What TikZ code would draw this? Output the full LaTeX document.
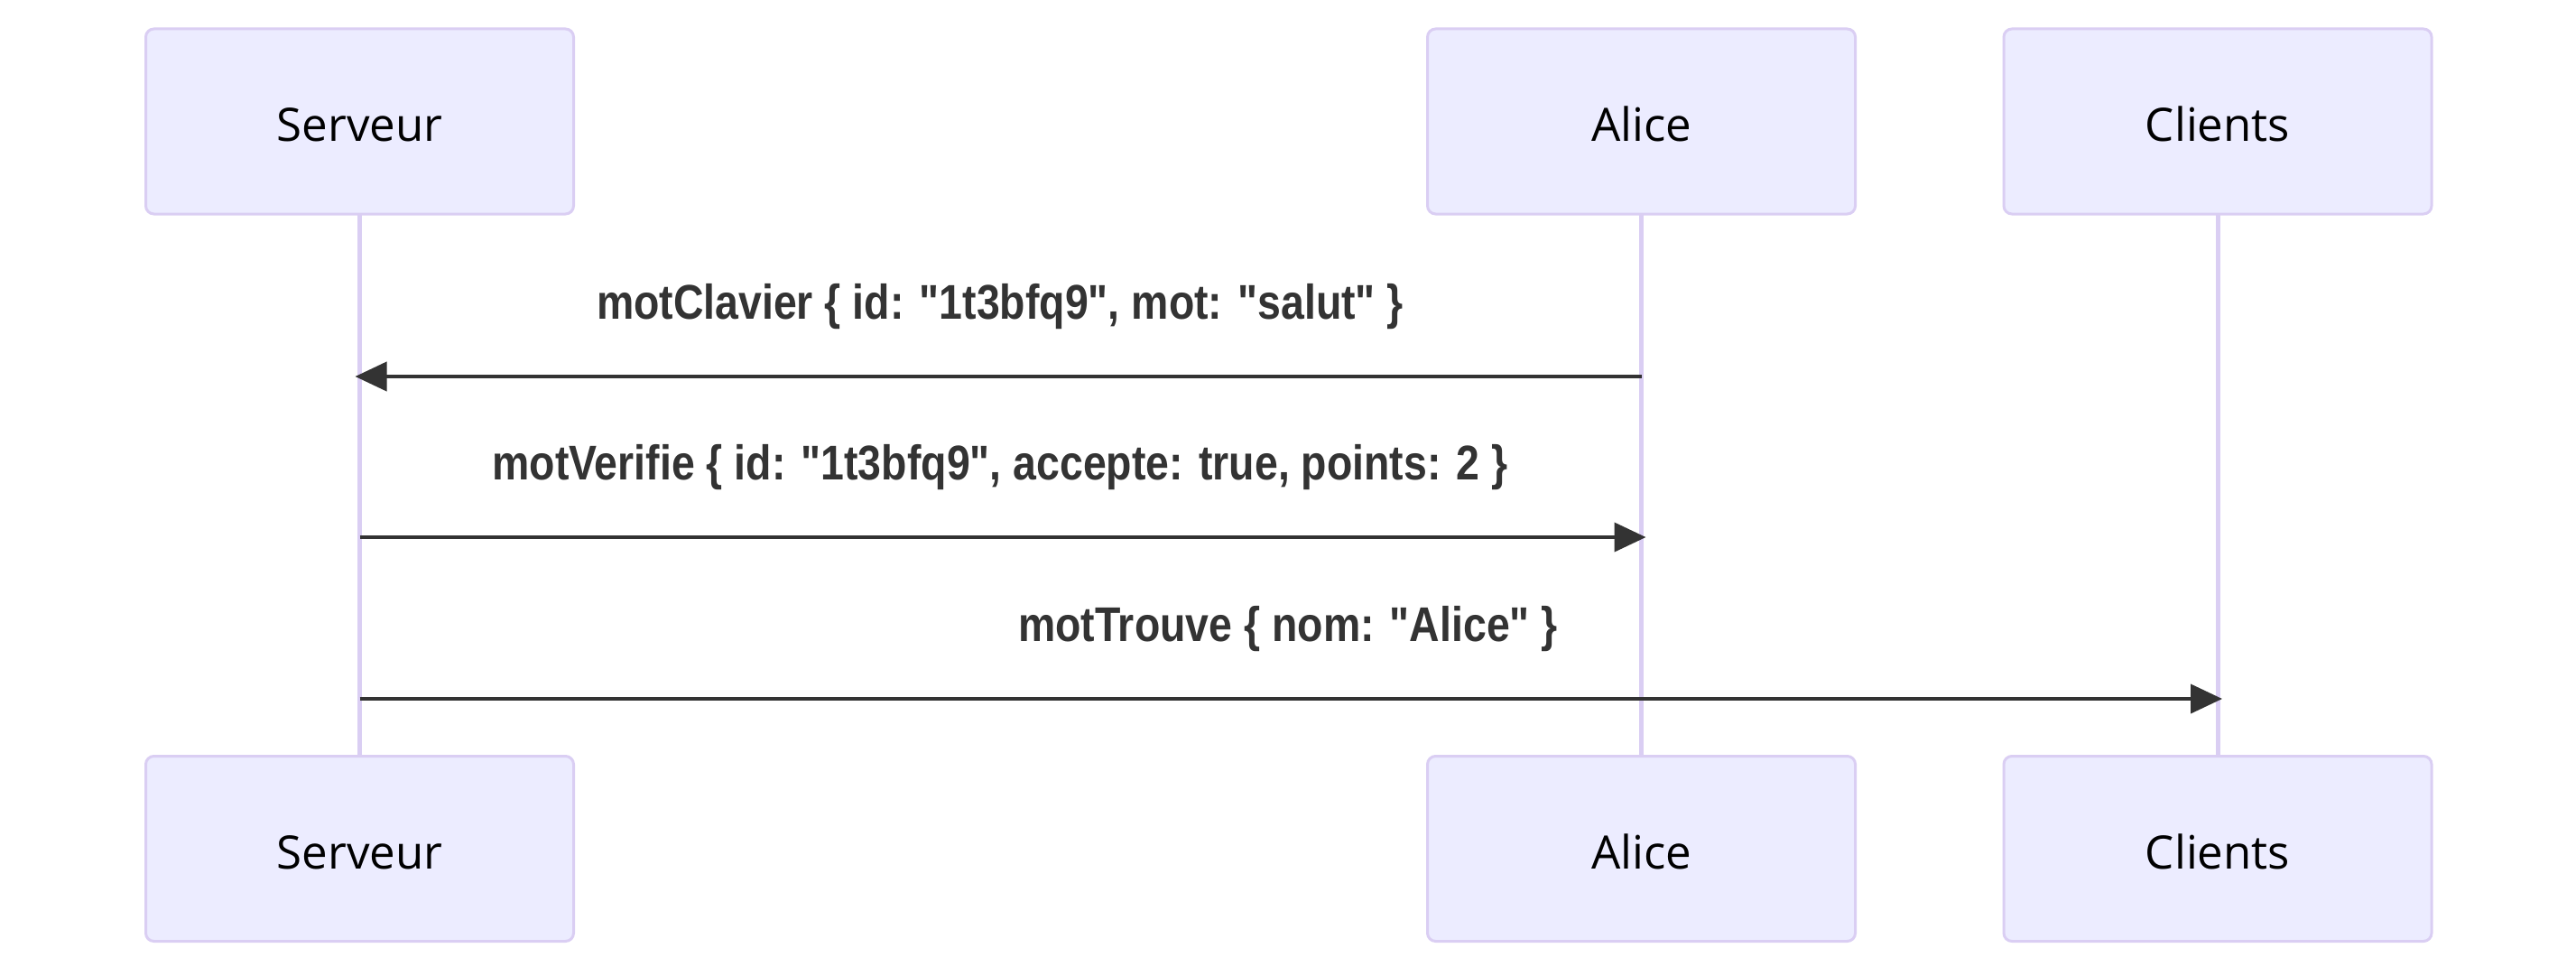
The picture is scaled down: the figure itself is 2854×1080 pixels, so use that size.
\documentclass[tikz,border=0pt]{standalone}
\usepackage{fontspec}
\setmainfont{Open Sans}
\newfontfamily\msgfont[FakeStretch=0.86]{Liberation Sans}
\usetikzlibrary{arrows.meta}
\definecolor{actfill}{HTML}{ECECFF}
\definecolor{actline}{HTML}{DACEF3}
\definecolor{msgcol}{HTML}{333333}
\begin{document}
\begin{tikzpicture}[x=0.25pt,y=-0.25pt,
  actor/.style={draw=actline, line width=0.75pt, fill=actfill, rounded corners=2.25pt,
    minimum width=118.5pt, minimum height=51.25pt, inner sep=0pt,
    font=\fontsize{12.75pt}{15pt}\selectfont, text=black, text height=11.1pt, text depth=0pt},
  lifeline/.style={draw=actline, line width=1.25pt},
  msgline/.style={draw=msgcol, line width=1pt, -{Triangle[length=8.75pt,width=8pt]}, shorten >=-1.25pt},
  msglabel/.style={font=\msgfont\bfseries\fontsize{13.5pt}{16pt}\selectfont, text=msgcol, inner sep=0pt, anchor=base}]
\useasboundingbox (0,0) rectangle (2854,1080);
% lifelines
\coordinate (sT) at (398.5,238); \coordinate (sB) at (398.5,837);
\coordinate (aT) at (1818.5,238); \coordinate (aB) at (1818.5,837);
\coordinate (cT) at (2457,238); \coordinate (cB) at (2457,837);
\draw[lifeline] (sT) -- (sB);
\draw[lifeline] (aT) -- (aB);
\draw[lifeline] (cT) -- (cB);
% actors
\node[actor] (serveur1) at (398.5,134.5) {Serveur};
\node[actor] (alice1) at (1818.5,134.5) {Alice};
\node[actor] (clients1) at (2457,134.5) {Clients};
\node[actor] (serveur2) at (398.5,940) {Serveur};
\node[actor] (alice2) at (1818.5,940) {Alice};
\node[actor] (clients2) at (2457,940) {Clients};
% message points
\coordinate (s1) at (398.5,417); \coordinate (a1) at (1818.5,417);
\coordinate (s2) at (398.5,595); \coordinate (a2) at (1818.5,595);
\coordinate (s3) at (398.5,774); \coordinate (c3) at (2457,774);
% messages
\node[msglabel] (l1) at (1108,353) {motClavier \{ id: "1t3bfq9", mot: "salut" \}};
\draw[msgline] (a1) -- (s1);
\node[msglabel] (l2) at (1108,531) {motVerifie \{ id: "1t3bfq9", accepte: true, points: 2 \}};
\draw[msgline] (s2) -- (a2);
\node[msglabel] (l3) at (1427,710) {motTrouve \{ nom: "Alice" \}};
\draw[msgline] (s3) -- (c3);
\end{tikzpicture}
\end{document}
